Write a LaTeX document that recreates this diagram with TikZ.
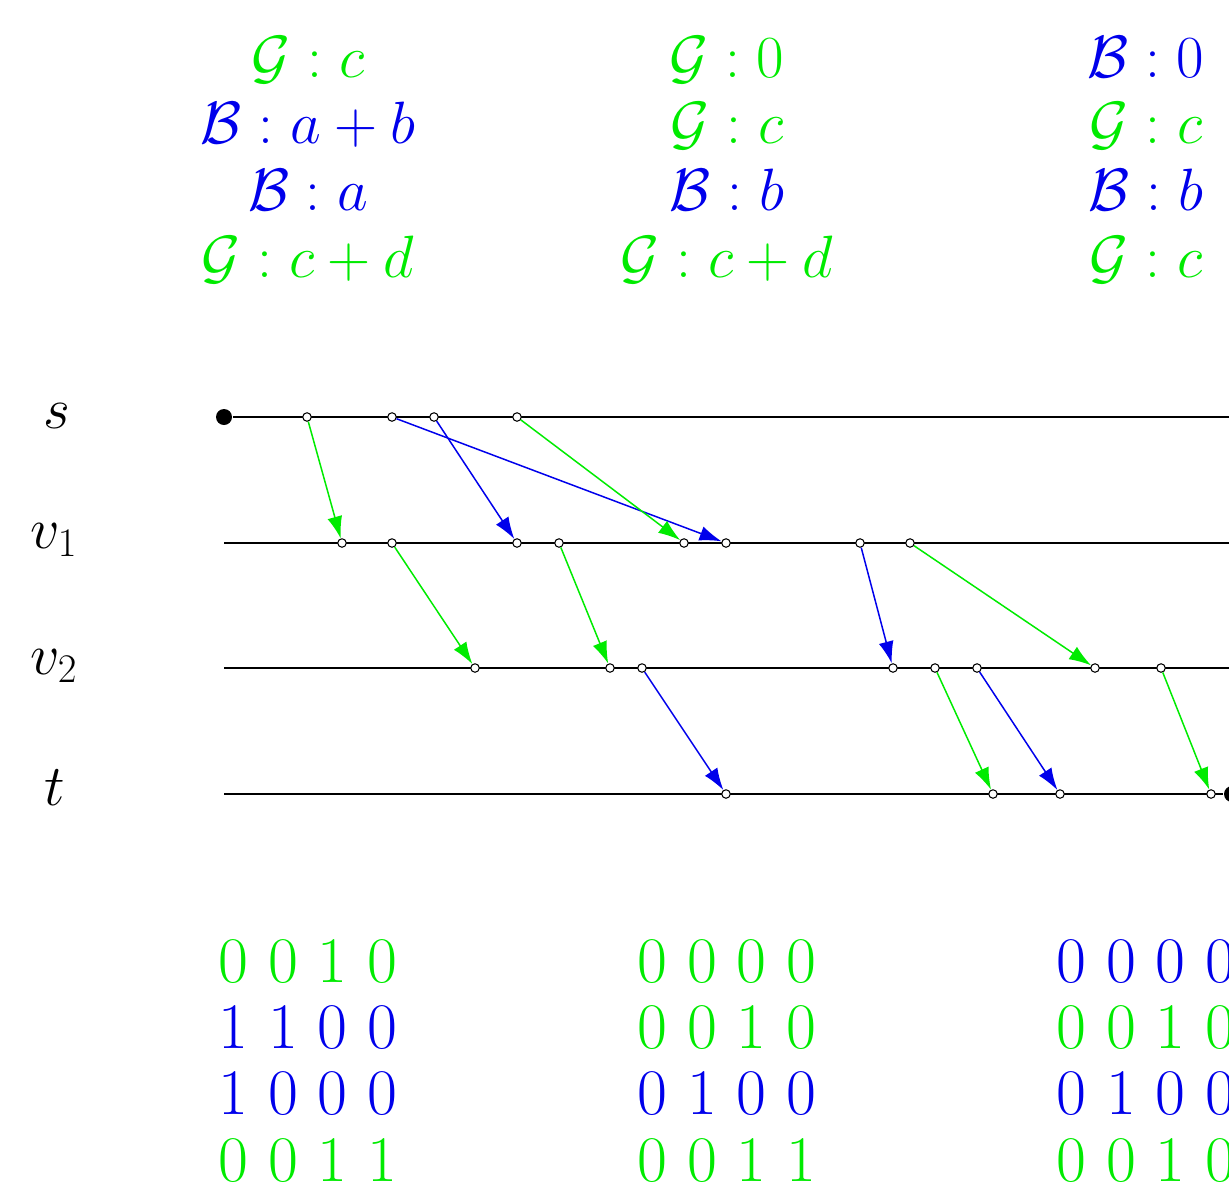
\RequirePackage{fix-cm}
\documentclass[tikz,border=0pt]{standalone}
\usepackage{amsmath,amssymb}
\usetikzlibrary{arrows.meta}
\definecolor{grn}{RGB}{0,235,0}
\definecolor{blu}{RGB}{0,0,235}
\tikzset{px/.style={x=.2mm,y=-.2mm,line width=1.2pt,font=\fontsize{33}{38}\selectfont},
  ev/.style={circle,draw,fill=white,inner sep=0pt,minimum size=1.7mm,line width=.6pt},
  endpt/.style={circle,fill=black,inner sep=0pt,minimum size=3.2mm},
  garr/.style={grn,line width=.85pt,-{Latex[length=4.4mm,width=3mm]}},
  barr/.style={blu,line width=.85pt,-{Latex[length=4.4mm,width=3mm]}},
  lbl/.style={anchor=base,inner sep=0pt},
  top/.style={lbl,font=\fontsize{34}{40}\selectfont},
  vec/.style={lbl,font=\fontsize{37}{42}\selectfont}}

\begin{document}
\begin{tikzpicture}[px]
  \useasboundingbox (0,0) rectangle (1229,1189);
  \clip (0,0) rectangle (1229,1189);
  % top labels
  \foreach \y/\c/\t [count=\i] in {77/grn/{\mathcal{G}:c},143/blu/{\mathcal{B}:a+b},210/blu/{\mathcal{B}:a},277/grn/{\mathcal{G}:c+d}}{\node[top,\c] (ta\i) at (308,\y) {$\t$};}
  \foreach \y/\c/\t [count=\i] in {77/grn/{\mathcal{G}:0},143/grn/{\mathcal{G}:c},210/blu/{\mathcal{B}:b},277/grn/{\mathcal{G}:c+d}}{\node[top,\c] (tb\i) at (727,\y) {$\t$};}
  \foreach \y/\c/\t [count=\i] in {77/blu/{\mathcal{B}:0},143/grn/{\mathcal{G}:c},210/blu/{\mathcal{B}:b},277/grn/{\mathcal{G}:c}}{\node[top,\c] (tc\i) at (1146,\y) {$\t$};}
  % vertices
  \node[lbl] (ls) at (57,428) {$s$};
  \node[lbl] (lv1) at (54,548) {$v_1$};
  \node[lbl] (lv2) at (54,674) {$v_2$};
  \node[lbl] (lt) at (55,805) {$t$};
  \node[endpt] (s0) at (224,417) {};
  \node[endpt] (tf) at (1232,794) {};
  \coordinate (sE) at (1240,417);
  \coordinate (v1a) at (224,543); \coordinate (v1E) at (1240,543);
  \coordinate (v2a) at (224,668); \coordinate (v2E) at (1240,668);
  \coordinate (ta) at (224,794);
  \draw (s0) -- (sE);
  \draw (v1a) -- (v1E);
  \draw (v2a) -- (v2E);
  \draw (ta) -- (tf);
  \foreach \x/\n in {307/s1,392/s2,434/s3,517/s4}{\node[ev] (\n) at (\x,417) {};}
  \foreach \x/\n in {342/a1,392/a2,517/a3,559/a4,684/a5,726/a6,860/a7,910/a8}{\node[ev] (\n) at (\x,543) {};}
  \foreach \x/\n in {475/b1,610/b2,642/b3,893/b4,935/b5,977/b6,1095/b7,1161/b8}{\node[ev] (\n) at (\x,668) {};}
  \foreach \x/\n in {726/c1,993/c2,1060/c3,1211/c4}{\node[ev] (\n) at (\x,794) {};}
  % packets
  \draw[garr] (s1) -- (a1);
  \draw[barr] (s2) -- (a6);
  \draw[barr] (s3) -- (a3);
  \draw[garr] (s4) -- (a5);
  \draw[garr] (a2) -- (b1);
  \draw[garr] (a4) -- (b2);
  \draw[barr] (a7) -- (b4);
  \draw[garr] (a8) -- (b7);
  \draw[barr] (b3) -- (c1);
  \draw[garr] (b5) -- (c2);
  \draw[barr] (b6) -- (c3);
  \draw[garr] (b8) -- (c4);
  % bottom vectors
  \foreach \y/\c/\t [count=\i] in {982/grn/0 0 1 0,1048/blu/1 1 0 0,1114/blu/1 0 0 0,1181/grn/0 0 1 1}{\node[vec,\c] (ba\i) at (308,\y) {\t};}
  \foreach \y/\c/\t [count=\i] in {982/grn/0 0 0 0,1048/grn/0 0 1 0,1114/blu/0 1 0 0,1181/grn/0 0 1 1}{\node[vec,\c] (bb\i) at (727,\y) {\t};}
  \foreach \y/\c/\t [count=\i] in {982/blu/0 0 0 0,1048/grn/0 0 1 0,1114/blu/0 1 0 0,1181/grn/0 0 1 0}{\node[vec,\c] (bc\i) at (1146,\y) {\t};}
\end{tikzpicture}
\end{document}
